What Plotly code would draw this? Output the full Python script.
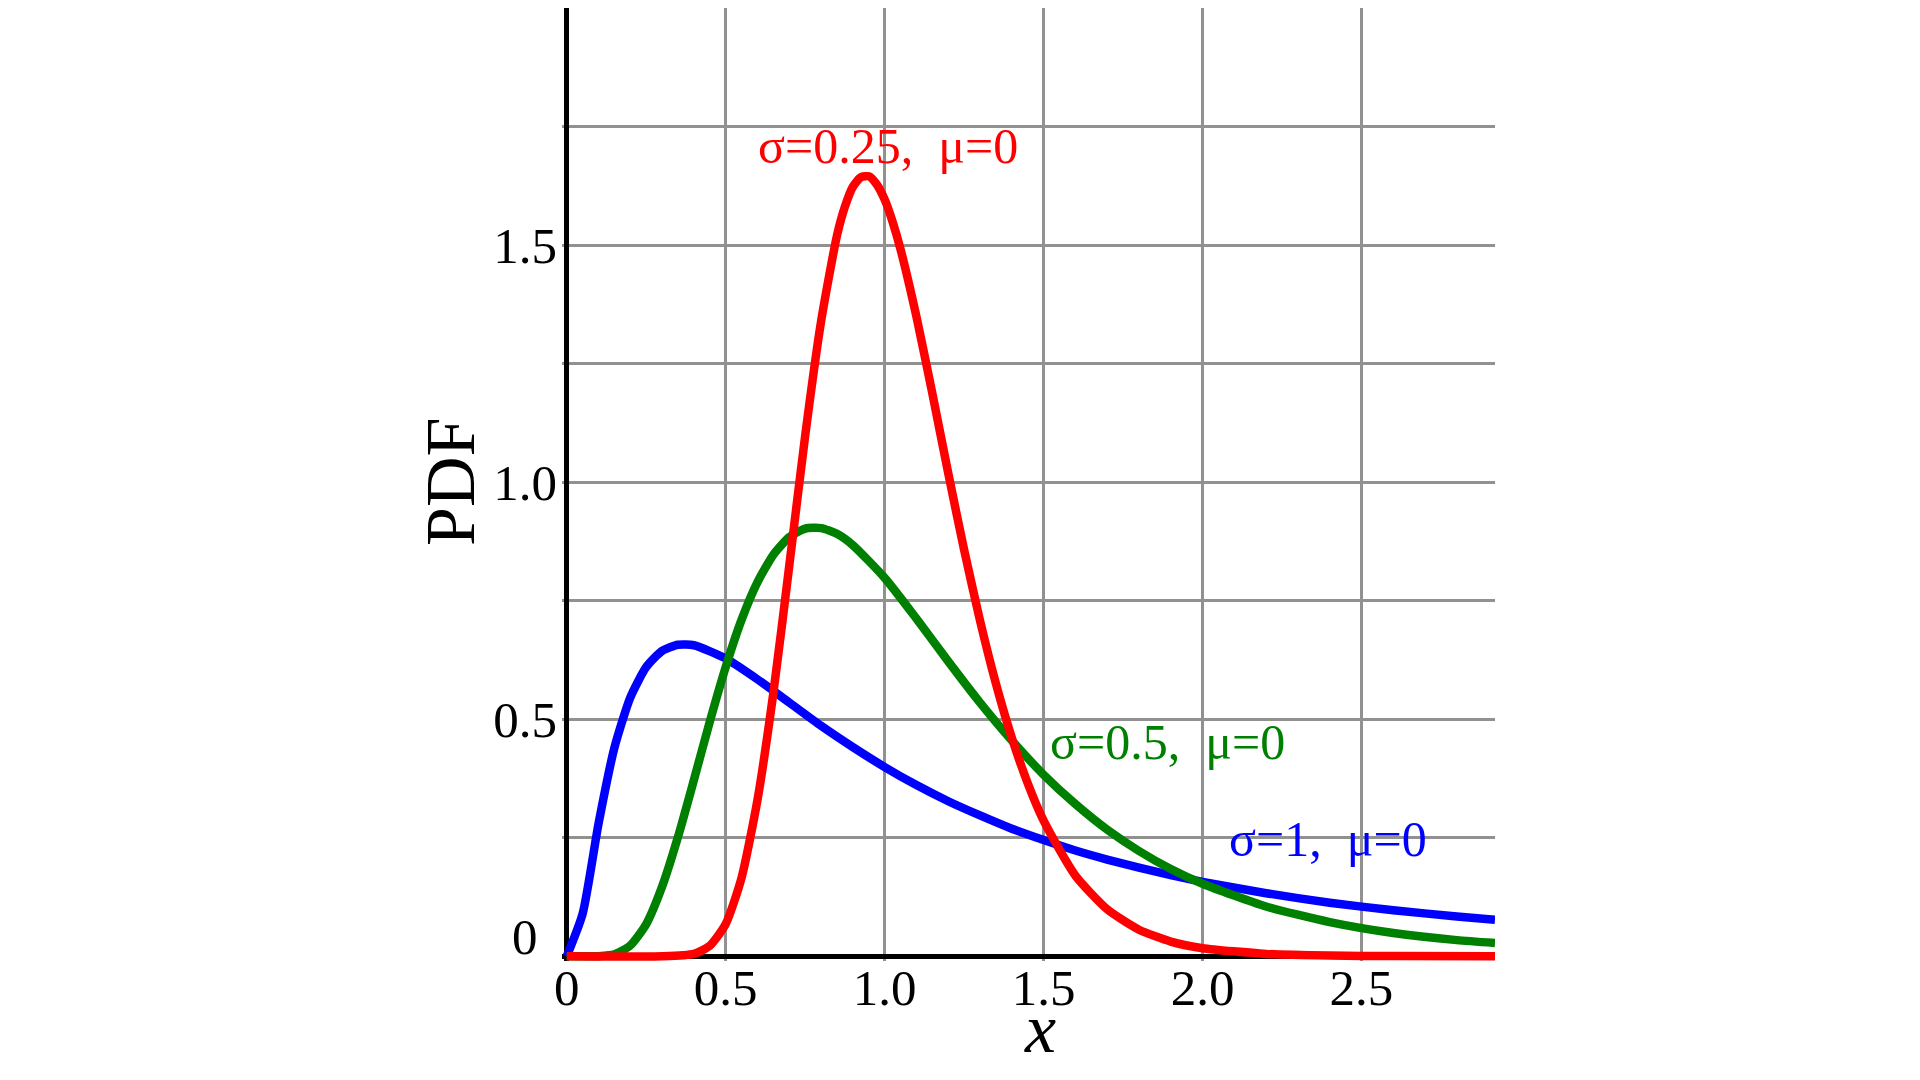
import plotly.graph_objects as go

# ---- data ----
x_s1 = [0, 0.05, 0.1, 0.15, 0.2, 0.25, 0.3, 0.35, 0.4, 0.5, 0.6, 0.7, 0.8, 0.9, 1.0,
        1.1, 1.2, 1.3, 1.4, 1.5, 1.6, 1.7, 1.8, 1.9, 2.0, 2.2, 2.4, 2.6, 2.8, 2.92]
y_s1 = [0, 0.09, 0.28, 0.44, 0.546, 0.61, 0.644, 0.657, 0.656, 0.628, 0.584, 0.535,
        0.486, 0.441, 0.399, 0.361, 0.327, 0.297, 0.269, 0.245, 0.223, 0.204, 0.187,
        0.171, 0.157, 0.133, 0.113, 0.097, 0.084, 0.077]

x_s05 = [0, 0.1, 0.15, 0.2, 0.25, 0.3, 0.35, 0.4, 0.45, 0.5, 0.55, 0.6, 0.65, 0.7,
         0.75, 0.8, 0.85, 0.9, 1.0, 1.1, 1.2, 1.3, 1.4, 1.5, 1.6, 1.7, 1.8, 1.9, 2.0,
         2.2, 2.4, 2.6, 2.8, 2.92]
y_s05 = [0, 0.0002, 0.004, 0.023, 0.068, 0.147, 0.252, 0.372, 0.495, 0.61, 0.71,
         0.789, 0.847, 0.884, 0.902, 0.903, 0.891, 0.867, 0.798, 0.712, 0.622, 0.535,
         0.455, 0.383, 0.321, 0.267, 0.222, 0.184, 0.153, 0.105, 0.072, 0.049, 0.034,
         0.028]

x_s025 = [0, 0.3, 0.4, 0.45, 0.5, 0.55, 0.6, 0.65, 0.7, 0.75, 0.8, 0.85, 0.875, 0.9,
          0.925, 0.95, 0.975, 1.0, 1.025, 1.05, 1.1, 1.15, 1.2, 1.25, 1.3, 1.35, 1.4,
          1.45, 1.5, 1.6, 1.7, 1.8, 1.9, 2.0, 2.2, 2.4, 2.6, 2.92]
y_s025 = [0, 0, 0.005, 0.022, 0.068, 0.166, 0.33, 0.556, 0.824, 1.098, 1.339, 1.52,
          1.581, 1.623, 1.643, 1.645, 1.628, 1.596, 1.549, 1.491, 1.349, 1.187, 1.019,
          0.857, 0.708, 0.575, 0.461, 0.365, 0.286, 0.170, 0.099, 0.056, 0.031, 0.017,
          0.005, 0.0014, 0.0004, 0.0001]

labels = ["σ=1,  μ=0", "σ=0.5,  μ=0", "σ=0.25,  μ=0"]
label_x = [2.077, 1.514, 0.594]
label_y = [0.247, 0.452, 1.708]
colors = ["#0000ff", "#008000", "#ff0000"]

x_tickvals = [0, 0.5, 1.0, 1.5, 2.0, 2.5]
x_ticktext = ["0", "0.5", "1.0", "1.5", "2.0", "2.5"]
y_tickvals = [0, 0.25, 0.5, 0.75, 1.0, 1.25, 1.5, 1.75, 2.0]
y_ticktext = ["", "", "0.5", "", "1.0", "", "1.5", "", ""]

x_title = "x"
y_title = "PDF"

FONT = "Liberation Serif"

fig = go.Figure()
for xs, ys, c in [(x_s1, y_s1, colors[0]), (x_s05, y_s05, colors[1]), (x_s025, y_s025, colors[2])]:
    fig.add_trace(go.Scatter(x=xs, y=ys, mode="lines",
                             line=dict(color=c, width=8.5, shape="spline", smoothing=0.6),
                             showlegend=False, hoverinfo="skip"))

for t, lx, ly, c in zip(labels, label_x, label_y, colors):
    fig.add_annotation(x=lx, y=ly, text=t, showarrow=False, xanchor="left",
                       yanchor="middle", font=dict(family=FONT, size=50, color=c))

# y tick label "0" sits slightly above the axis in the reference
fig.add_annotation(x=0, y=0, text="0", showarrow=False, xanchor="right", yanchor="middle",
                   xshift=-27, yshift=19, font=dict(family=FONT, size=51, color="black"))

# axis titles
fig.add_annotation(x=1.49, y=0, text="<i>" + x_title + "</i>", showarrow=False,
                   xanchor="center", yanchor="middle", yshift=-72,
                   font=dict(family=FONT, size=70, color="black"))
fig.add_annotation(x=0, y=1.0, text=y_title, showarrow=False, textangle=-90,
                   xanchor="center", yanchor="middle", xshift=-117,
                   font=dict(family=FONT, size=70, color="black"))

fig.update_layout(
    width=1904, height=1064,
    paper_bgcolor="white", plot_bgcolor="white",
    margin=dict(l=554, r=417, t=0, b=111, autoexpand=False),
    font=dict(family=FONT, color="black"),
    xaxis=dict(range=[-0.015, 2.92], tickvals=x_tickvals, ticktext=x_ticktext,
               showgrid=True, gridcolor="rgb(145,145,145)", gridwidth=2.5,
               zeroline=True, zerolinecolor="black", zerolinewidth=5,
               showline=False, ticks="", tickfont=dict(family=FONT, size=51),
               ticklabelstandoff=-8, fixedrange=True),
    yaxis=dict(range=[-0.01, 2.0], tickvals=y_tickvals, ticktext=y_ticktext,
               showgrid=True, gridcolor="rgb(145,145,145)", gridwidth=2.5,
               zeroline=True, zerolinecolor="black", zerolinewidth=5,
               showline=False, ticks="", tickfont=dict(family=FONT, size=51),
               ticklabelstandoff=4, fixedrange=True),
)

fig.write_html("out.html")
